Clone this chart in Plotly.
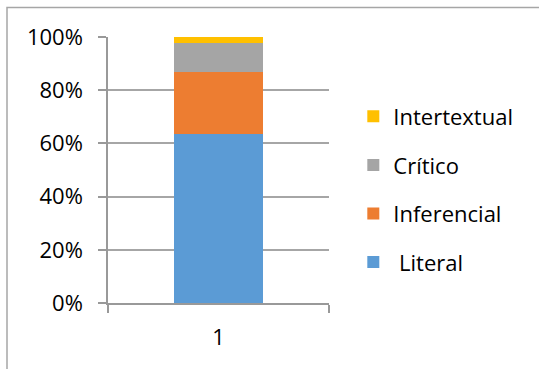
import plotly.graph_objects as go

# Reading-comprehension levels, share of responses (%)
categories = ["1"]
levels = ["Literal", "Inferencial", "Crítico", "Intertextual"]
literal = [63.5]
inferencial = [23.2]
critico = [11.0]
intertextual = [2.3]
series = [literal, inferencial, critico, intertextual]
colors = ["#5B9BD5", "#ED7D31", "#A5A5A5", "#FFC000"]
legend_names = [" Literal", "Inferencial", "Crítico", "Intertextual"]
legend_ranks = [4, 3, 2, 1]
y_ticks = [0, 20, 40, 60, 80, 100]
y_tick_text = ["0%", "20%", "40%", "60%", "80%", "100%"]

FONT = "Open Sans"
fig = go.Figure()
for name, vals, col, lg, rk in zip(legend_names, series, colors, levels, legend_ranks):
    fig.add_trace(go.Bar(
        x=categories, y=vals, name=name, legendgroup=lg, legendrank=rk,
        marker=dict(color=col, line=dict(width=0)),
        width=0.4,
    ))

fig.update_layout(
    width=539, height=369,
    barmode="stack",
    plot_bgcolor="white", paper_bgcolor="white",
    margin=dict(l=108, r=210, t=37, b=66),
    font=dict(family=FONT, size=22, color="#000000"),
    showlegend=True,
    legend=dict(
        x=1.11, y=0.78, xanchor="left", yanchor="top",
        traceorder="grouped", tracegroupgap=17,
        font=dict(family=FONT, size=22, color="#000000"),
        bgcolor="rgba(0,0,0,0)", itemwidth=30,
    ),
    xaxis=dict(
        type="category", range=[-0.5, 0.5],
        showline=True, linecolor="#999999", linewidth=1.5,
        ticks="outside", tickson="boundaries", ticklen=8,
        tickcolor="#999999", tickwidth=1.5,
        showgrid=False, zeroline=False,
        ticklabelstandoff=14,
    ),
    yaxis=dict(
        range=[0, 100], tickvals=y_ticks, ticktext=y_tick_text,
        showline=True, linecolor="#999999", linewidth=1.5,
        ticks="outside", ticklen=8, tickcolor="#999999", tickwidth=1.5,
        showgrid=True, gridcolor="#A6A6A6", gridwidth=1.5,
        zeroline=False, ticklabelstandoff=11,
    ),
    shapes=[dict(
        type="rect", xref="paper", yref="paper",
        x0=(7 - 108) / 221, x1=3, y0=-2, y1=(303.3 - 7) / 266.7,
        line=dict(color="#A6A6A6", width=1.5), fillcolor="rgba(0,0,0,0)",
        layer="below",
    )],
)

fig.write_html("out.html")
